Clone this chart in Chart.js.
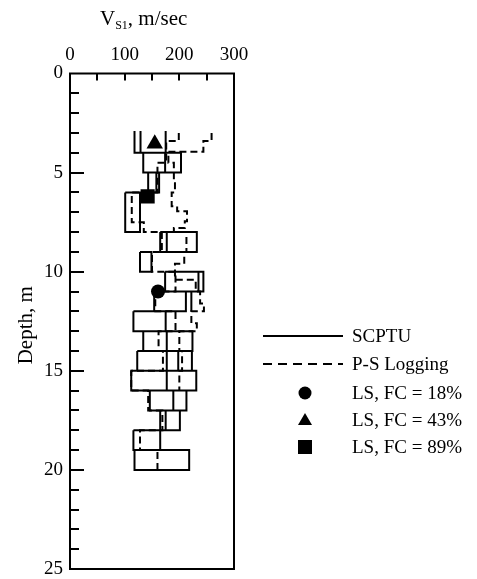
<!DOCTYPE html>
<html>
<head>
<meta charset="utf-8">
<title>Vs1 profile</title>
<script src="https://cdn.jsdelivr.net/npm/chart.js@4.4.1/dist/chart.umd.min.js"></script>
<style>
  html, body { margin: 0; padding: 0; background: #fff; }
  #chart { display: block; }
</style>
</head>
<body>
<canvas id="chart" width="477" height="579"></canvas>
<script>
// --- data ---
// SCPTU intervals (depth m) and velocity bounds (m/s)
const scptuTop    = [2.9, 4, 5, 6, 8, 9, 10, 11, 12, 13, 14, 15, 16, 17, 18, 19];
const scptuBottom = [4, 5, 6, 8, 9, 10, 11, 12, 13, 14, 15, 16, 17, 18, 19, 20];
const scptuLow    = [118, 134, 143, 101, 165, 128, 174, 154, 116, 134, 123, 112, 146, 165, 116, 118];
const scptuHigh   = [175, 203, 163, 128, 232, 149, 244, 212, 175, 224, 223, 231, 213, 201, 165, 218];
const scptuMid    = [129, 174, 158, null, 177, null, 235, 222, null, 177, 177, 177, 189, 175, null, null];
const scptuMid2   = [null, null, null, null, null, null, null, null, null, null, 198, null, null, null, null, null];

// P-S logging steps (top of each step, value), two overlapping logs
const psTopA = [3.0, 3.4, 3.95, 4.5, 5.4, 6.0, 6.7, 6.95, 7.45, 7.8, 8.0, 9.0, 9.6, 10.4, 11.0, 11.6, 12.0, 12.6, 13.0, 14.0, 15.0];
const psValA = [259, 244, 180, 190, 192, 186, 196, 214, 210, 190, 213, 209, 192, 230, 238, 245, 222, 232, 200, 205, 200];
const psEndA = 16.0;
const psTopB = [3.0, 3.4, 4.5, 6.0, 7.5, 8.0, 9.0, 10.0, 11.0, 12.0, 13.0, 14.0, 15.0, 16.0, 17.0, 18.0, 19.0];
const psValB = [199, 176, 160, 113, 135, 168, 150, 193, 156, 193, 162, 170, 112, 143, 169, 128, 160];
const psEndB = 20.0;

// laboratory points
const lsFC18 = [{ x: 161, y: 11.0 }];
const lsFC43 = [{ x: 155, y: 3.55 }];
const lsFC89 = [{ x: 142, y: 6.2 }];

// axis ticks
const xTickLabels = [0, 100, 200, 300];
const xMinorTicks = [50, 100, 150, 200, 250];
const yTickLabels = [0, 5, 10, 15, 20, 25];
const yMinorTicks = [];
for (let d = 1; d < 25; d++) yMinorTicks.push(d);

const FONT = '"Liberation Serif", "Times New Roman", serif';
const GAP = { x: null, y: null };

// --- build line data from the arrays ---
function boxPoints() {
    const pts = [];
    scptuTop.forEach((t, i) => {
        const b = scptuBottom[i], lo = scptuLow[i], hi = scptuHigh[i];
        pts.push({ x: lo, y: t }, { x: lo, y: b }, { x: hi, y: b }, { x: hi, y: t });
        if (i > 0) pts.push({ x: lo, y: t }); // top of the log is open
        pts.push(GAP);
    });
    return pts;
}

function verticals(vals) {
    const pts = [];
    vals.forEach((v, i) => {
        if (v === null) return;
        pts.push({ x: v, y: scptuTop[i] }, { x: v, y: scptuBottom[i] }, GAP);
    });
    return pts;
}

function steps(tops, vals, end) {
    const pts = [];
    tops.forEach((t, i) => {
        const b = i < tops.length - 1 ? tops[i + 1] : end;
        pts.push({ x: vals[i], y: t }, { x: vals[i], y: b });
    });
    return pts;
}

const solid = { showLine: true, borderColor: '#000', borderWidth: 2, pointRadius: 0, spanGaps: false, tension: 0, fill: false };
const dashed = Object.assign({}, solid, { borderDash: [7, 4] });
const marker = { showLine: false, backgroundColor: '#000', borderColor: '#000', borderWidth: 0 };

// --- frame, ticks, titles and legend ---
const framePlugin = {
    id: 'frame',
    afterDraw(chart) {
        const { ctx, chartArea: a, scales } = chart;
        const xs = scales.x, ys = scales.y;
        ctx.save();
        ctx.strokeStyle = '#000';
        ctx.lineWidth = 2;
        ctx.strokeRect(a.left, a.top, a.right - a.left, a.bottom - a.top);

        ctx.beginPath();
        xMinorTicks.forEach(v => {
            const px = Math.round(xs.getPixelForValue(v));
            ctx.moveTo(px, a.top);
            ctx.lineTo(px, a.top + 7);
        });
        yMinorTicks.forEach(d => {
            const py = Math.round(ys.getPixelForValue(d));
            ctx.moveTo(a.left, py);
            ctx.lineTo(a.left + (d % 5 === 0 ? 14 : 9), py);
        });
        ctx.stroke();

        ctx.fillStyle = '#000';
        ctx.font = '19px ' + FONT;
        ctx.textAlign = 'center';
        ctx.textBaseline = 'alphabetic';
        xTickLabels.forEach(v => ctx.fillText(String(v), xs.getPixelForValue(v), 60));
        ctx.textAlign = 'right';
        ctx.textBaseline = 'middle';
        yTickLabels.forEach(d => ctx.fillText(String(d), 63, ys.getPixelForValue(d)));

        // top title with subscript
        ctx.textAlign = 'left';
        ctx.textBaseline = 'alphabetic';
        let tx = 100;
        ctx.font = '21px ' + FONT;
        ctx.fillText('V', tx, 25);
        tx += ctx.measureText('V').width;
        ctx.font = '12px ' + FONT;
        ctx.fillText('S1', tx, 29);
        tx += ctx.measureText('S1').width;
        ctx.font = '21px ' + FONT;
        ctx.fillText(', m/sec', tx, 25);

        // left title
        ctx.save();
        ctx.translate(32, (a.top + a.bottom) / 2 + 4);
        ctx.rotate(-Math.PI / 2);
        ctx.textAlign = 'center';
        ctx.font = '21px ' + FONT;
        ctx.fillText('Depth, m', 0, 0);
        ctx.restore();

        // legend
        const lx1 = 263, lx2 = 343, mx = 305, textX = 352;
        ctx.font = '19px ' + FONT;
        ctx.textAlign = 'left';
        ctx.textBaseline = 'middle';
        const rows = [
            { y: 336, kind: 'solid', label: 'SCPTU' },
            { y: 364, kind: 'dashed', label: 'P-S Logging' },
            { y: 393, kind: 'circle', label: 'LS, FC = 18%' },
            { y: 420, kind: 'triangle', label: 'LS, FC = 43%' },
            { y: 447, kind: 'rect', label: 'LS, FC = 89%' }
        ];
        rows.forEach(r => {
            ctx.beginPath();
            if (r.kind === 'solid' || r.kind === 'dashed') {
                ctx.setLineDash(r.kind === 'dashed' ? [9, 6] : []);
                ctx.moveTo(lx1, r.y);
                ctx.lineTo(lx2, r.y);
                ctx.stroke();
                ctx.setLineDash([]);
            } else if (r.kind === 'circle') {
                ctx.arc(mx, r.y, 6.5, 0, Math.PI * 2);
                ctx.fill();
            } else if (r.kind === 'triangle') {
                ctx.moveTo(mx, r.y - 7);
                ctx.lineTo(mx + 7, r.y + 5);
                ctx.lineTo(mx - 7, r.y + 5);
                ctx.closePath();
                ctx.fill();
            } else {
                ctx.rect(mx - 7, r.y - 7, 14, 14);
                ctx.fill();
            }
            ctx.fillText(r.label, textX, r.y + 1);
        });
        ctx.restore();
    }
};

new Chart(document.getElementById('chart'), {
    type: 'scatter',
    data: {
        datasets: [
            Object.assign({ label: 'SCPTU', data: boxPoints() }, solid),
            Object.assign({ label: 'SCPTU inner', data: verticals(scptuMid) }, solid),
            Object.assign({ label: 'SCPTU inner 2', data: verticals(scptuMid2) }, solid),
            Object.assign({ label: 'P-S Logging', data: steps(psTopA, psValA, psEndA) }, dashed),
            Object.assign({ label: 'P-S Logging 2', data: steps(psTopB, psValB, psEndB) }, dashed),
            Object.assign({ label: 'LS, FC = 18%', data: lsFC18, pointStyle: 'circle', pointRadius: 7 }, marker),
            Object.assign({ label: 'LS, FC = 43%', data: lsFC43, pointStyle: 'triangle', pointRadius: 9.5 }, marker),
            Object.assign({ label: 'LS, FC = 89%', data: lsFC89, pointStyle: 'rect', pointRadius: 10 }, marker)
        ]
    },
    options: {
        responsive: false,
        animation: false,
        events: [],
        layout: { autoPadding: false, padding: { left: 0, top: 0, right: 243, bottom: 10 } },
        plugins: { legend: { display: false }, tooltip: { enabled: false } },
        scales: {
            x: {
                type: 'linear', position: 'top', min: 0, max: 300,
                ticks: { display: false, stepSize: 50 },
                grid: { display: false, drawTicks: false },
                border: { display: false },
                afterFit: s => { s.height = 73.5; }
            },
            y: {
                type: 'linear', position: 'left', min: 0, max: 25, reverse: true,
                ticks: { display: false, stepSize: 1 },
                grid: { display: false, drawTicks: false },
                border: { display: false },
                afterFit: s => { s.width = 70; }
            }
        }
    },
    plugins: [framePlugin]
});
</script>
</body>
</html>
